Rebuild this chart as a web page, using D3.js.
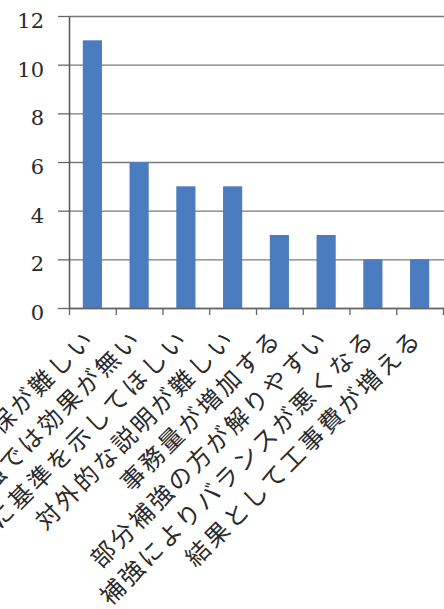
<!DOCTYPE html>
<html>
<head>
<meta charset="utf-8">
<script src="https://cdn.jsdelivr.net/npm/d3@7"></script>
<style>
  body { margin: 0; background: #fff; }
  svg { display: block; }
</style>
</head>
<body>
<div id="wrapper"></div>
<script>
// data (left part of the first labels is cut off in the source)
const categories = [
  "保が難しい",
  "強では効果が無い",
  "に基準を示してほしい",
  "対外的な説明が難しい",
  "事務量が増加する",
  "部分補強の方が解りやすい",
  "補強によりバランスが悪くなる",
  "結果として工事費が増える",
];
const counts = [11, 6, 5, 5, 3, 3, 2, 2];
const yTicks = [0, 2, 4, 6, 8, 10, 12];

function drawChart() {
  const width = 444;
  const height = 609;
  const margin = { top: 16, right: 1, bottom: 301, left: 69 };
  const boundedWidth = width - margin.left - margin.right;
  const boundedHeight = height - margin.top - margin.bottom;

  const svg = d3.select("#wrapper")
    .append("svg")
    .attr("width", width)
    .attr("height", height);

  const bounds = svg.append("g")
    .attr("transform", `translate(${margin.left},${margin.top})`);

  // scales
  const yScale = d3.scaleLinear()
    .domain([0, 12])
    .range([boundedHeight, 0]);

  const xScale = d3.scaleBand()
    .domain(categories)
    .range([0, boundedWidth])
    .paddingInner(0.59)
    .paddingOuter(0.295);

  const slotScale = d3.scaleLinear()
    .domain([0, categories.length])
    .range([0, boundedWidth]);

  // gridlines
  bounds.append("g")
    .call(d3.axisLeft(yScale).tickValues(yTicks).tickSize(-(boundedWidth + 2)).tickFormat(""))
    .call((g) => g.select(".domain").remove())
    .call((g) => g.selectAll("line").attr("stroke", "#7a7a7a").attr("stroke-width", 1.3));

  // bars
  bounds.selectAll("rect.bar")
    .data(counts)
    .join("rect")
    .attr("class", "bar")
    .attr("x", (d, i) => xScale(categories[i]))
    .attr("width", xScale.bandwidth())
    .attr("y", (d) => yScale(d))
    .attr("height", (d) => boundedHeight - yScale(d))
    .attr("fill", "#4a7cbf");

  // y axis
  const yAxis = bounds.append("g")
    .call(d3.axisLeft(yScale).tickValues(yTicks).tickSize(11).tickSizeOuter(0).tickPadding(14))
    .call((g) => g.select(".domain").attr("stroke", "#555").attr("stroke-width", 1.5));
  yAxis.selectAll("line").attr("stroke", "#666").attr("stroke-width", 1.3);
  yAxis.selectAll("text")
    .attr("dy", "0.55em")
    .style("font-family", "'DejaVu Serif', serif")
    .style("font-size", "21px")
    .attr("fill", "#2a2a2a");

  // x axis baseline with ticks between categories
  const xAxis = bounds.append("g")
    .attr("transform", `translate(0,${boundedHeight})`)
    .call(d3.axisBottom(slotScale).tickValues(d3.range(0, categories.length + 1)).tickSize(7).tickSizeOuter(0).tickFormat(""))
    .call((g) => g.select(".domain").attr("stroke", "#666").attr("stroke-width", 1.3));
  xAxis.selectAll("line").attr("stroke", "#666").attr("stroke-width", 1.3);

  // rotated category labels
  bounds.selectAll("text.cat")
    .data(categories)
    .join("text")
    .attr("class", "cat")
    .attr("transform", (d) => `translate(${xScale(d) + xScale.bandwidth() / 2 + 4},${boundedHeight + 32}) rotate(-45)`)
    .attr("text-anchor", "end")
    .style("font-family", "'Noto Sans CJK JP', sans-serif")
    .style("font-size", "24px")
    .style("letter-spacing", "3px")
    .attr("fill", "#2a2a2a")
    .text((d) => d);
}

drawChart();
</script>
</body>
</html>
